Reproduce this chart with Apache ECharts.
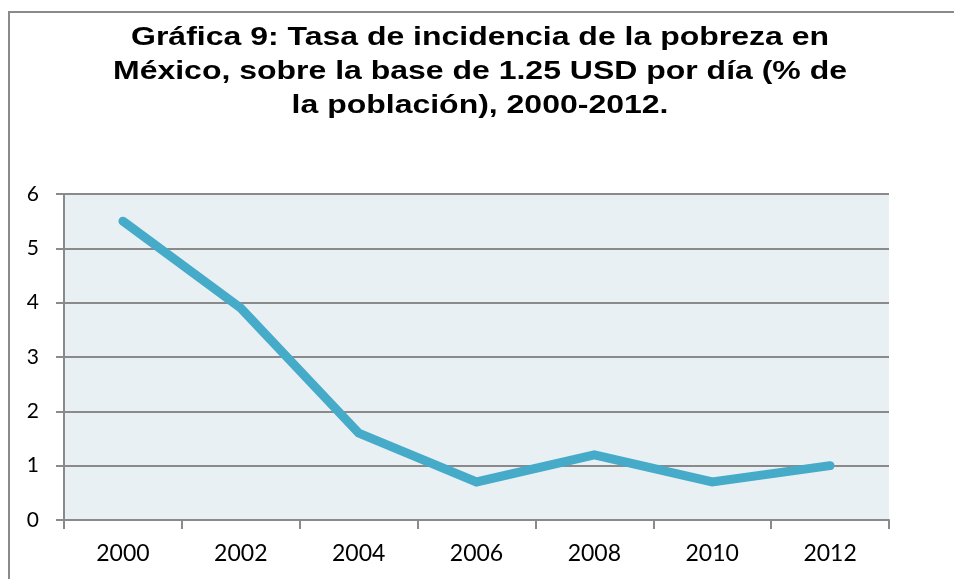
<html>
<head>
<meta charset="utf-8">
<script src="https://cdn.jsdelivr.net/npm/echarts@6/dist/echarts.min.js"></script>
</head>
<body style="margin:0;background:#fff">
    <div style="position:absolute;left:8px;top:11px;width:960px;height:600px;border-left:2px solid #8a8a8a;border-top:2px solid #8a8a8a"></div>
    <div id="main" style="position:absolute;left:0;top:0;width:954px;height:579px;"></div>
</body>
</html>
<script>
    var titleLines = [
        'Gráfica 9: Tasa de incidencia de la pobreza en',
        'México, sobre la base de 1.25 USD por día (% de',
        'la población), 2000-2012.'
    ];
    var years = ['2000', '2002', '2004', '2006', '2008', '2010', '2012'];
    var pobreza = [5.5, 3.9, 1.6, 0.7, 1.2, 0.7, 1.0];

    var chartDom = document.getElementById('main');
    var myChart = echarts.init(chartDom);
    var option;

    // the title in the original is a wide bold face, so stretch it a bit
    var titleGraphics = titleLines.map(function (line, i) {
        return {
            type: 'text',
            x: 480,
            y: 38 + i * 34,
            scaleX: 1.23,
            style: {
                text: line,
                fontFamily: 'Liberation Sans',
                fontWeight: 'bold',
                fontSize: 26,
                fill: '#000',
                textAlign: 'center',
                textVerticalAlign: 'middle'
            }
        };
    });

    option = {
        animation: false,
        graphic: titleGraphics,
        grid: {
            left: 64,
            right: 65,
            top: 194,
            bottom: 59,
            show: true,
            backgroundColor: '#e8f0f4',
            borderWidth: 0
        },
        xAxis: {
            type: 'category',
            data: years,
            boundaryGap: true,
            axisLine: { lineStyle: { color: '#8a8a8a', width: 2 } },
            axisTick: { show: true, length: 9, lineStyle: { color: '#8a8a8a', width: 2 } },
            axisLabel: { color: '#000', fontFamily: 'Lato', fontSize: 23, margin: 22 }
        },
        yAxis: {
            type: 'value',
            min: 0,
            max: 6,
            interval: 1,
            axisLine: { show: true, lineStyle: { color: '#8a8a8a', width: 2 } },
            axisTick: { show: true, length: 8, lineStyle: { color: '#8a8a8a', width: 2 } },
            splitLine: { lineStyle: { color: '#8a8a8a', width: 2 } },
            axisLabel: { color: '#000', fontFamily: 'Lato', fontSize: 21, margin: 25 }
        },
        series: [
            {
                type: 'line',
                data: pobreza,
                showSymbol: false,
                lineStyle: { color: '#46abc8', width: 9, cap: 'round', join: 'miter' },
                itemStyle: { color: '#46abc8' }
            }
        ]
    };

    option && myChart.setOption(option);
</script>
